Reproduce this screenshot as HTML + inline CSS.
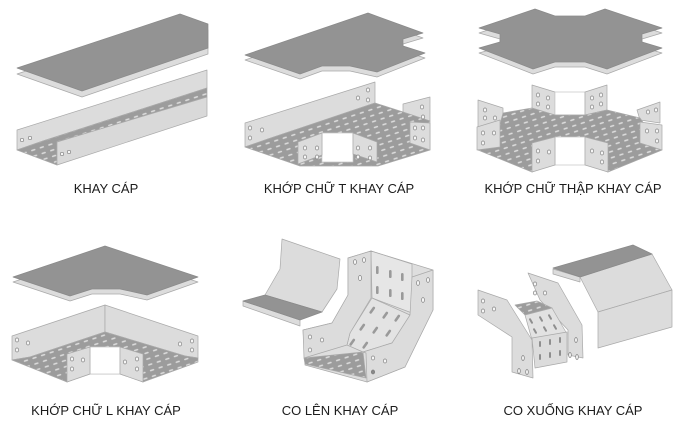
<!DOCTYPE html>
<html><head><meta charset="utf-8"><style>
html,body{margin:0;padding:0;background:#fff;}
svg{display:block;}
text{font-family:"Liberation Sans",Arial,sans-serif;font-size:13px;fill:#1c1c1c;}
</style></head><body>
<svg width="682" height="422" viewBox="0 0 682 422" xmlns="http://www.w3.org/2000/svg">
<defs>
<pattern id="perf" width="9" height="6" patternUnits="userSpaceOnUse" patternTransform="rotate(-18)">
<rect width="9" height="6" fill="#9c9c9c"/>
<rect x="1" y="2.2" width="4.5" height="1.6" rx="0.8" fill="#dedede"/>
</pattern>
</defs>
<rect width="682" height="422" fill="#fff"/>

<g stroke="#a9a9a9" stroke-width="0.7" stroke-linejoin="round">
<!-- ===== Panel 1: KHAY CAP ===== -->
<polygon points="17,68 180,14 208,24 208,48 82,91" fill="#dcdcdc" transform="translate(0,6)"/>
<polygon points="17,68 180,14 208,24 208,48 82,91" fill="#939393" stroke="#8a8a8a"/>
<polygon points="17,130 207,70 207,88 43,141 17,150" fill="#dcdcdc"/>
<polygon points="17,150 43,141 207,88 207,97 57,142 57,165" fill="url(#perf)"/>
<polygon points="57,142 207,97 207,116 57,165" fill="#d9d9d9"/>
<g fill="#f6f6f6" stroke="#808080" stroke-width="0.7">
<circle cx="22" cy="140" r="1.7"/><circle cx="30" cy="138" r="1.7"/>
<circle cx="62" cy="154" r="1.7"/><circle cx="69" cy="152" r="1.7"/>
</g>

<!-- ===== Panel 2: T ===== -->
<polygon points="245,55 368,13 423,33 403,39 403,46 425,53 377,72 350,66 322,66 300,74" fill="#dcdcdc" transform="translate(0,5)"/>
<polygon points="245,55 368,13 423,33 403,39 403,46 425,53 377,72 350,66 322,66 300,74" fill="#939393" stroke="#8a8a8a"/>
<polygon points="245,123 375,82 375,103 268,139 245,147" fill="#dcdcdc"/>
<polygon points="403,104 430,97 430,121 403,115" fill="#dcdcdc"/>
<polygon points="245,147 268,139 375,103 403,112 430,121 430,150 378,166 300,166" fill="url(#perf)"/>
<polygon points="410,122 430,123 430,150 410,143" fill="#dcdcdc"/>
<polygon points="322,133 353,133 353,162 322,162" fill="#fff" stroke="#c8c8c8"/>
<polygon points="298,142 322,133 322,155 298,164" fill="#dcdcdc"/>
<polygon points="353,133 377,142 377,162 353,154" fill="#dcdcdc"/>
<g fill="#f6f6f6" stroke="#808080" stroke-width="0.7">
<ellipse cx="250" cy="128" rx="1.7" ry="2"/><ellipse cx="262" cy="130" rx="1.7" ry="2"/><ellipse cx="250" cy="138" rx="1.7" ry="2"/>
<ellipse cx="358" cy="98" rx="1.7" ry="2"/><ellipse cx="368" cy="90" rx="1.7" ry="2"/><ellipse cx="368" cy="100" rx="1.7" ry="2"/>
<ellipse cx="422" cy="107" rx="1.7" ry="2"/><ellipse cx="423" cy="117" rx="1.7" ry="2"/>
<ellipse cx="415" cy="128" rx="1.7" ry="2"/><ellipse cx="423" cy="128" rx="1.7" ry="2"/><ellipse cx="415" cy="138" rx="1.7" ry="2"/><ellipse cx="423" cy="140" rx="1.7" ry="2"/>
<ellipse cx="305" cy="148" rx="1.7" ry="2"/><ellipse cx="317" cy="148" rx="1.7" ry="2"/><ellipse cx="305" cy="157" rx="1.7" ry="2"/><ellipse cx="317" cy="157" rx="1.7" ry="2"/>
<ellipse cx="358" cy="148" rx="1.7" ry="2"/><ellipse cx="370" cy="148" rx="1.7" ry="2"/><ellipse cx="358" cy="157" rx="1.7" ry="2"/><ellipse cx="370" cy="158" rx="1.7" ry="2"/>
</g>

<!-- ===== Panel 3: THAP ===== -->
<polygon points="479,28 535,9 555,16 585,16 605,9 662,28 642,34 642,42 662,48 607,69 585,62 555,62 533,69 479,48 500,42 500,34" fill="#dcdcdc" transform="translate(0,5)"/>
<polygon points="479,28 535,9 555,16 585,16 605,9 662,28 642,34 642,42 662,48 607,69 585,62 555,62 533,69 479,48 500,42 500,34" fill="#939393" stroke="#8a8a8a"/>
<polygon points="478,100 503,108 503,124 478,127" fill="#dcdcdc"/>
<polygon points="532,85 555,92 555,115 532,110" fill="#dcdcdc"/>
<polygon points="555,92 585,92 585,115 555,115" fill="#fff" stroke="#c8c8c8"/>
<polygon points="585,92 607,85 607,110 585,115" fill="#dcdcdc"/>
<polygon points="637,110 660,102 660,123 640,120" fill="#dcdcdc"/>
<polygon points="478,150 500,124 503,113 532,108 555,115 585,115 607,110 640,118 662,150 608,172 585,163 555,163 532,172" fill="url(#perf)"/>
<polygon points="477,127 500,120 500,147 477,150" fill="#dcdcdc"/>
<polygon points="640,122 662,125 662,150 640,143" fill="#dcdcdc"/>
<polygon points="555,137 585,137 585,165 555,165" fill="#fff" stroke="#c8c8c8"/>
<polygon points="532,143 555,137 555,165 532,172" fill="#dcdcdc"/>
<polygon points="585,137 608,143 608,172 585,165" fill="#dcdcdc"/>
<g fill="#f6f6f6" stroke="#808080" stroke-width="0.7">
<ellipse cx="485" cy="110" rx="1.7" ry="2"/><ellipse cx="495" cy="118" rx="1.7" ry="2"/><ellipse cx="485" cy="118" rx="1.7" ry="2"/>
<ellipse cx="538" cy="95" rx="1.7" ry="2"/><ellipse cx="548" cy="98" rx="1.7" ry="2"/><ellipse cx="538" cy="104" rx="1.7" ry="2"/><ellipse cx="548" cy="107" rx="1.7" ry="2"/>
<ellipse cx="592" cy="98" rx="1.7" ry="2"/><ellipse cx="601" cy="95" rx="1.7" ry="2"/><ellipse cx="592" cy="107" rx="1.7" ry="2"/><ellipse cx="601" cy="104" rx="1.7" ry="2"/>
<ellipse cx="648" cy="112" rx="1.7" ry="2"/><ellipse cx="656" cy="110" rx="1.7" ry="2"/>
<ellipse cx="483" cy="133" rx="1.7" ry="2"/><ellipse cx="494" cy="133" rx="1.7" ry="2"/><ellipse cx="483" cy="143" rx="1.7" ry="2"/>
<ellipse cx="647" cy="131" rx="1.7" ry="2"/><ellipse cx="657" cy="131" rx="1.7" ry="2"/><ellipse cx="657" cy="141" rx="1.7" ry="2"/>
<ellipse cx="538" cy="151" rx="1.7" ry="2"/><ellipse cx="549" cy="152" rx="1.7" ry="2"/><ellipse cx="538" cy="161" rx="1.7" ry="2"/>
<ellipse cx="592" cy="151" rx="1.7" ry="2"/><ellipse cx="602" cy="153" rx="1.7" ry="2"/><ellipse cx="602" cy="162" rx="1.7" ry="2"/>
</g>

<!-- ===== Panel 4: L ===== -->
<polygon points="13,277 105,246 198,277 147,295 120,289 92,289 70,296" fill="#dcdcdc" transform="translate(0,5)"/>
<polygon points="13,277 105,246 198,277 147,295 120,289 92,289 70,296" fill="#939393" stroke="#8a8a8a"/>
<polygon points="12,336 105,305 105,332 30,357 12,360" fill="#dcdcdc"/>
<polygon points="105,305 198,336 198,358 185,356 105,332" fill="#dcdcdc"/>
<polygon points="12,360 30,357 105,332 185,356 198,358 198,362 143,382 120,374 90,374 67,382" fill="url(#perf)"/>
<polygon points="90,347 120,347 120,374 90,374" fill="#fff" stroke="#c8c8c8"/>
<polygon points="67,354 90,347 90,374 67,382" fill="#dcdcdc"/>
<polygon points="120,347 143,354 143,382 120,374" fill="#dcdcdc"/>
<g fill="#f6f6f6" stroke="#808080" stroke-width="0.7">
<ellipse cx="17" cy="340" rx="1.7" ry="2"/><ellipse cx="28" cy="343" rx="1.7" ry="2"/><ellipse cx="17" cy="350" rx="1.7" ry="2"/>
<ellipse cx="180" cy="344" rx="1.7" ry="2"/><ellipse cx="192" cy="341" rx="1.7" ry="2"/><ellipse cx="192" cy="350" rx="1.7" ry="2"/>
<ellipse cx="72" cy="359" rx="1.7" ry="2"/><ellipse cx="83" cy="360" rx="1.7" ry="2"/><ellipse cx="72" cy="369" rx="1.7" ry="2"/>
<ellipse cx="125" cy="362" rx="1.7" ry="2"/><ellipse cx="137" cy="359" rx="1.7" ry="2"/><ellipse cx="137" cy="369" rx="1.7" ry="2"/>
</g>

<!-- ===== Panel 5: CO LEN ===== -->
<polygon points="243,301 300,320 300,326 243,306" fill="#dcdcdc"/>
<polygon points="265,295 280,269 282,239 340,259 337,289 322,312" fill="#dcdcdc"/>
<polygon points="243,301 265,295 322,312 300,320" fill="#939393" stroke="#8a8a8a"/>
<!-- silhouette -->
<polygon points="303,330 332,323 348,295 348,258 371,251 433,270 433,310 405,367 367,382 305,365" fill="#dedede"/>
<!-- back vertical panel -->
<polygon points="371,251 412,264 412,313 372,298" fill="#e6e6e6"/>
<!-- sloped floor -->
<polygon points="372,298 410,315 395,342 363,352 347,345 350,333" fill="#e3e3e3"/>
<!-- bottom floor -->
<polygon points="304,358 363,352 366,378 305,364" fill="url(#perf)"/>
<!-- right wall -->
<polygon points="363,352 392,343 410,315 412,277 433,270 433,310 405,367 367,382 366,353" fill="#dcdcdc"/>
<!-- left wall -->
<polygon points="303,330 332,323 348,295 348,258 371,251 371,298 350,333 347,345 304,358" fill="#dcdcdc"/>
<g fill="#9a9a9a" stroke="none">
<rect x="376" y="266" width="2.6" height="8" rx="1.3"/><rect x="389" y="270" width="2.6" height="8" rx="1.3"/><rect x="401" y="273" width="2.6" height="8" rx="1.3"/>
<rect x="376" y="286" width="2.6" height="8" rx="1.3"/><rect x="389" y="289" width="2.6" height="8" rx="1.3"/><rect x="401" y="292" width="2.6" height="8" rx="1.3"/>
<rect x="371" y="306" width="2.6" height="8" rx="1.3" transform="rotate(35 372 310)"/><rect x="384" y="311" width="2.6" height="8" rx="1.3" transform="rotate(35 385 315)"/><rect x="396" y="314" width="2.6" height="8" rx="1.3" transform="rotate(35 397 318)"/>
<rect x="361" y="323" width="2.6" height="8" rx="1.3" transform="rotate(35 362 327)"/><rect x="374" y="326" width="2.6" height="8" rx="1.3" transform="rotate(35 375 330)"/><rect x="387" y="329" width="2.6" height="8" rx="1.3" transform="rotate(35 388 333)"/>
<rect x="351" y="338" width="2.6" height="8" rx="1.3" transform="rotate(35 352 342)"/><rect x="364" y="341" width="2.6" height="8" rx="1.3" transform="rotate(35 365 345)"/>
</g>
<g fill="#f6f6f6" stroke="#808080" stroke-width="0.7">
<ellipse cx="355" cy="262" rx="1.5" ry="2.4"/><ellipse cx="364" cy="260" rx="1.5" ry="2.4"/><ellipse cx="360" cy="278" rx="1.5" ry="2.6"/>
<ellipse cx="310" cy="337" rx="1.7" ry="2"/><ellipse cx="322" cy="340" rx="1.7" ry="2"/><ellipse cx="310" cy="350" rx="1.7" ry="2"/>
<ellipse cx="418" cy="283" rx="1.5" ry="2.4"/><ellipse cx="428" cy="280" rx="1.5" ry="2.4"/><ellipse cx="423" cy="300" rx="1.5" ry="2.4"/>
<ellipse cx="373" cy="358" rx="1.7" ry="2"/><ellipse cx="385" cy="361" rx="1.7" ry="2"/><ellipse cx="373" cy="372" rx="1.7" ry="2" fill="#888"/>
</g>

<!-- ===== Panel 6: CO XUONG ===== -->
<polygon points="553,269 580,277 580,282 553,274" fill="#dcdcdc"/>
<polygon points="580,277 652,254 672,290 598,312" fill="#dcdcdc"/>
<polygon points="598,312 672,290 672,327 598,348" fill="#dcdcdc"/>
<polygon points="553,268 633,245 652,254 580,277" fill="#939393" stroke="#8a8a8a"/>
<polygon points="528,273 558,283 582,325 583,358 568,355 568,330 540,300" fill="#dcdcdc"/>
<polygon points="515,305 537,301 552,308 525,315" fill="url(#perf)"/>
<polygon points="525,315 552,308 567,334 532,340" fill="#e2e2e2"/>
<polygon points="532,338 567,332 567,362 535,368" fill="#dcdcdc"/>
<polygon points="478,290 507,300 532,340 533,378 512,372 512,337 478,315" fill="#dcdcdc"/>
<g fill="#8e8e8e" stroke="none">
<rect x="530" y="318" width="2" height="6" rx="1" transform="rotate(-30 531 321)"/><rect x="540" y="316" width="2" height="6" rx="1" transform="rotate(-30 541 319)"/><rect x="549" y="314" width="2" height="6" rx="1" transform="rotate(-30 550 317)"/>
<rect x="534" y="328" width="2" height="6" rx="1" transform="rotate(-30 535 331)"/><rect x="544" y="326" width="2" height="6" rx="1" transform="rotate(-30 545 329)"/><rect x="554" y="324" width="2" height="6" rx="1" transform="rotate(-30 555 327)"/>
<rect x="539" y="341" width="2" height="6" rx="1"/><rect x="549" y="339" width="2" height="6" rx="1"/><rect x="559" y="337" width="2" height="6" rx="1"/>
<rect x="539" y="354" width="2" height="6" rx="1"/><rect x="549" y="352" width="2" height="6" rx="1"/><rect x="559" y="350" width="2" height="6" rx="1"/>
</g>
<g fill="#f6f6f6" stroke="#808080" stroke-width="0.7">
<ellipse cx="483" cy="301" rx="1.7" ry="2"/><ellipse cx="483" cy="311" rx="1.7" ry="2"/><ellipse cx="494" cy="309" rx="1.7" ry="2"/>
<ellipse cx="535" cy="284" rx="1.7" ry="2"/><ellipse cx="535" cy="293" rx="1.7" ry="2"/><ellipse cx="545" cy="293" rx="1.7" ry="2"/>
<ellipse cx="523" cy="358" rx="1.3" ry="2.4"/><ellipse cx="519" cy="371" rx="1.3" ry="2.4"/><ellipse cx="527" cy="372" rx="1.3" ry="2.4"/>
<ellipse cx="576" cy="340" rx="1.3" ry="2.4"/><ellipse cx="570" cy="355" rx="1.3" ry="2.4"/><ellipse cx="577" cy="357" rx="1.3" ry="2.4"/>
</g>
</g>

<!-- Labels -->
<text x="106" y="193" text-anchor="middle">KHAY CÁP</text>
<text x="339" y="193" text-anchor="middle">KHỚP CHỮ T KHAY CÁP</text>
<text x="573" y="193" text-anchor="middle">KHỚP CHỮ THẬP KHAY CÁP</text>
<text x="106" y="415" text-anchor="middle">KHỚP CHỮ L KHAY CÁP</text>
<text x="340" y="415" text-anchor="middle">CO LÊN KHAY CÁP</text>
<text x="573" y="415" text-anchor="middle">CO XUỐNG KHAY CÁP</text>
</svg>
</body></html>
